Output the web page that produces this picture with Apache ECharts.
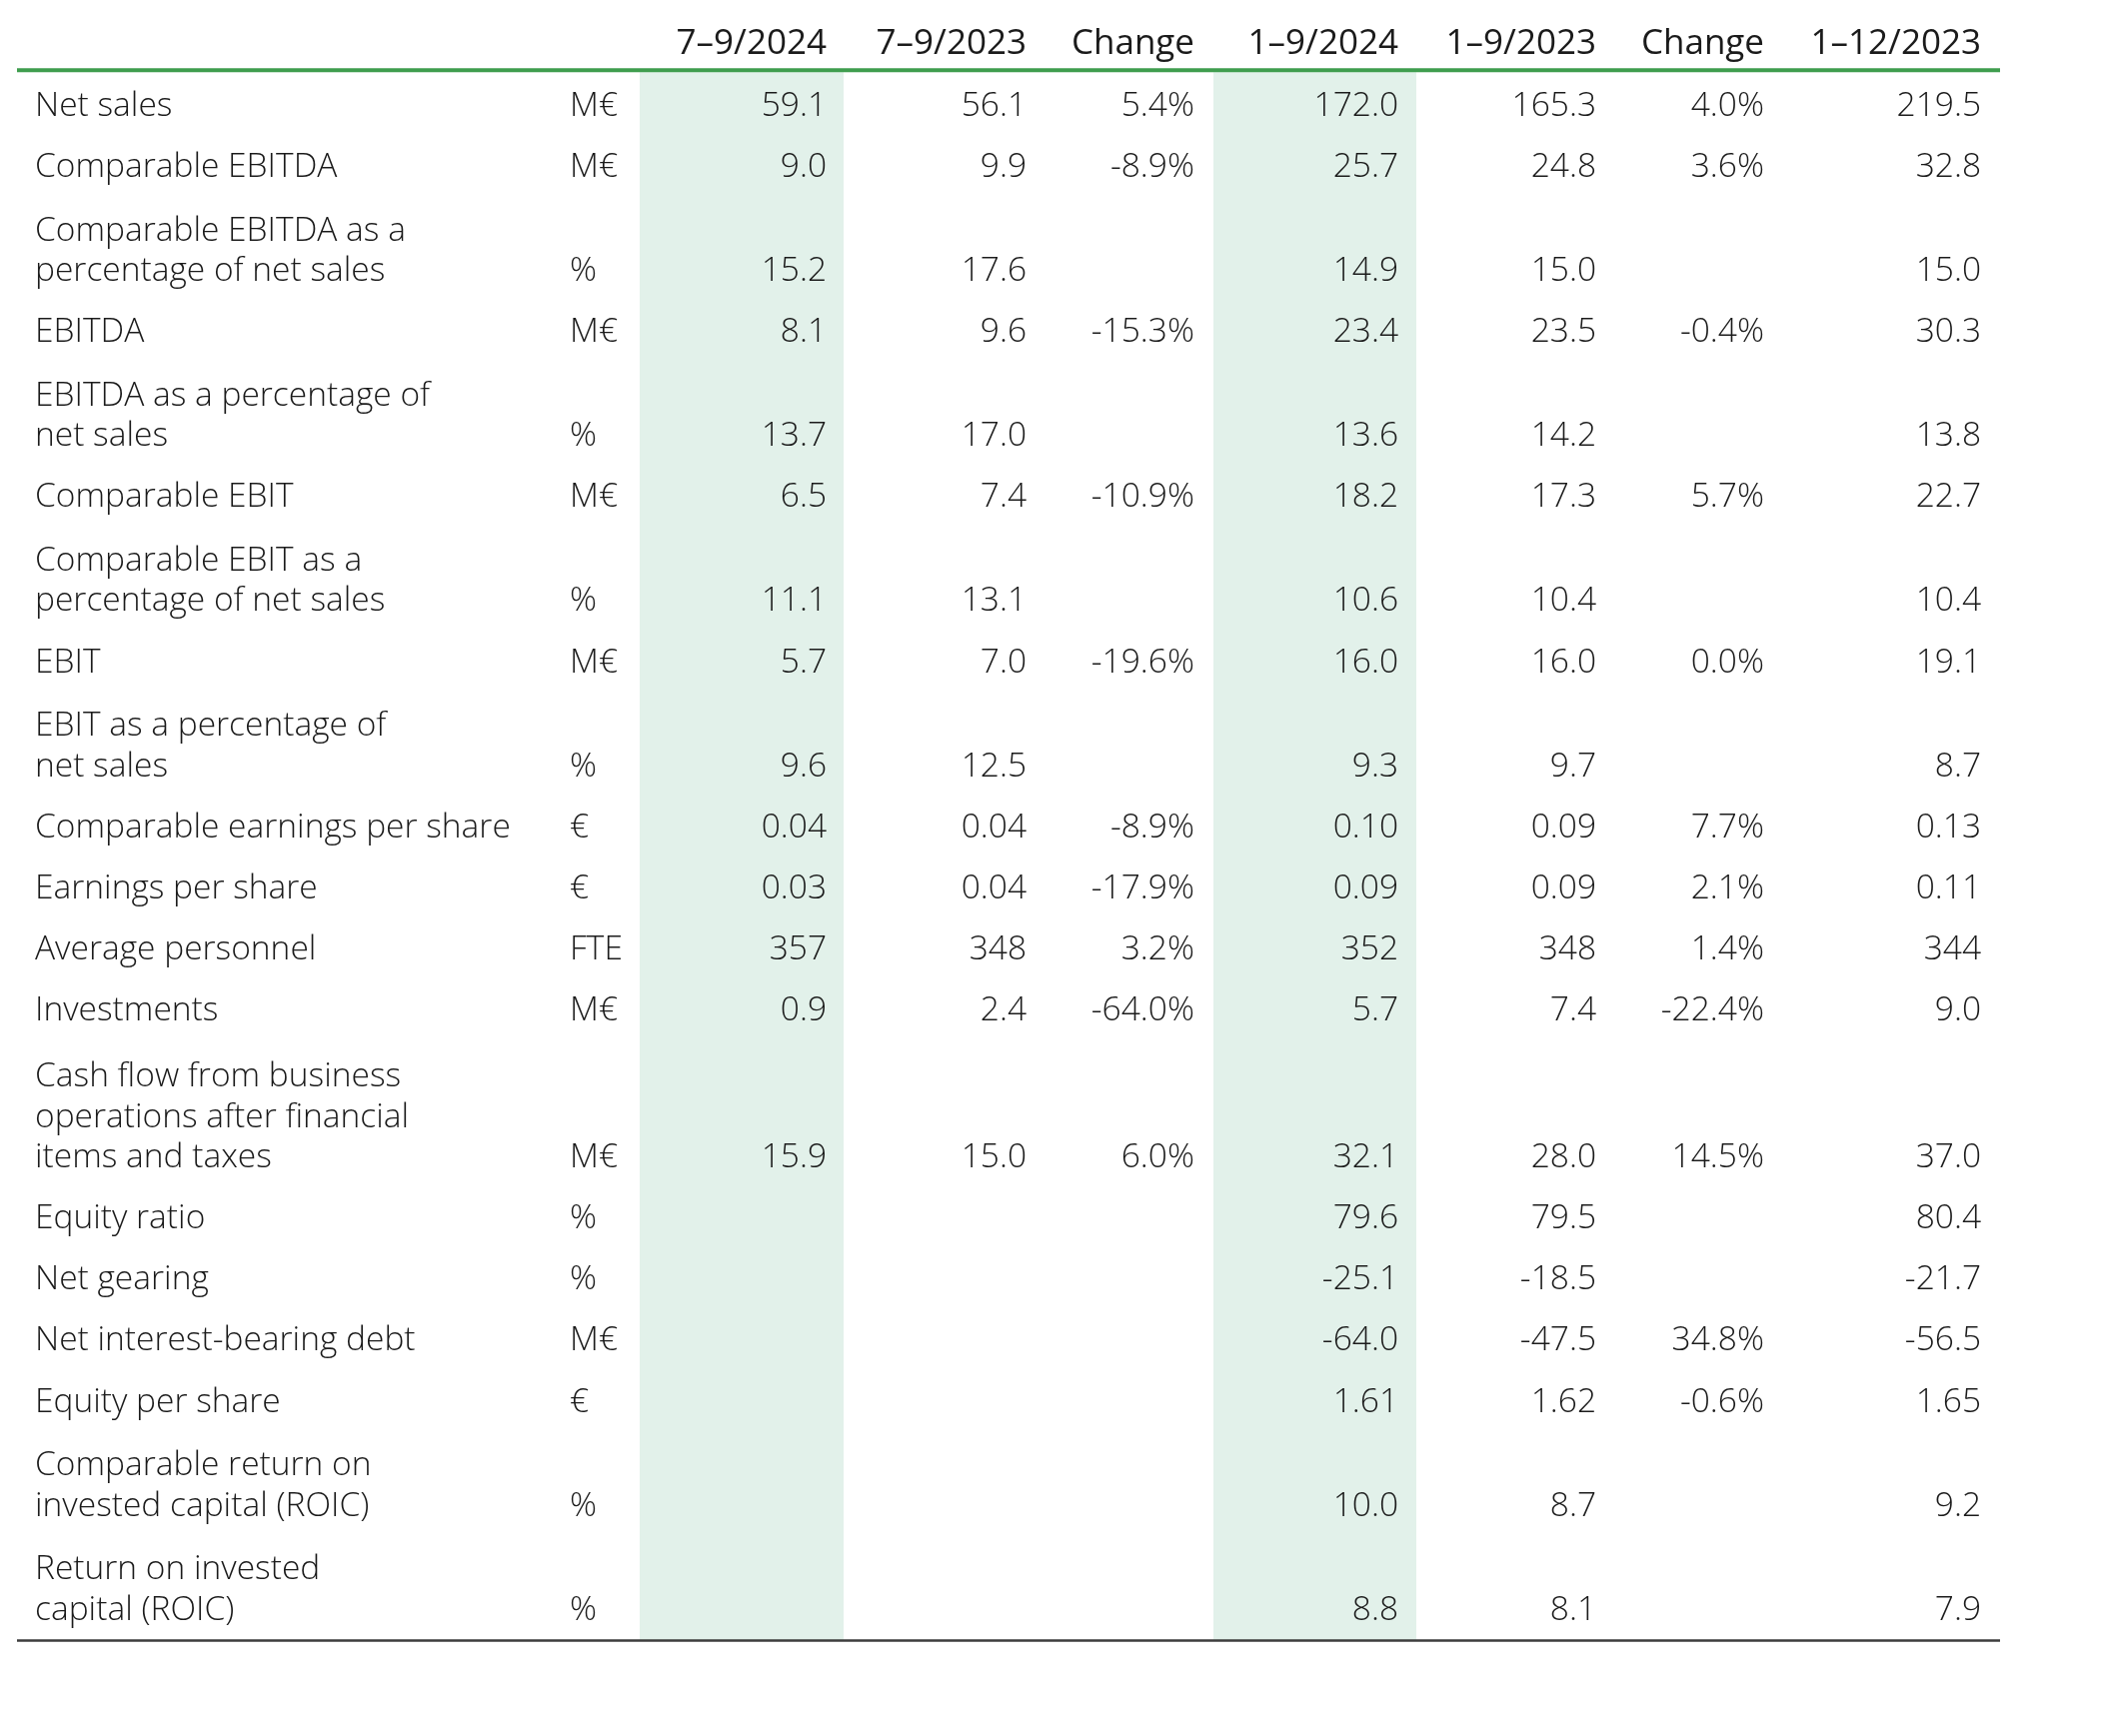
<!DOCTYPE html>
<html><head><meta charset="utf-8">
<script src="https://cdn.jsdelivr.net/npm/echarts@6/dist/echarts.min.js"></script>
<style>html,body{margin:0;padding:0;background:#fff}#c{width:2107px;height:1737px}</style>
</head><body><div id="c"></div>
<script>
// ---------- data ----------
const headers = ["7–9/2024", "7–9/2023", "Change", "1–9/2024", "1–9/2023", "Change", "1–12/2023"];
const labels = [
  "Net sales", "Comparable EBITDA", "Comparable EBITDA as a\npercentage of net sales", "EBITDA",
  "EBITDA as a percentage of\nnet sales", "Comparable EBIT", "Comparable EBIT as a\npercentage of net sales", "EBIT",
  "EBIT as a percentage of\nnet sales", "Comparable earnings per share", "Earnings per share", "Average personnel",
  "Investments", "Cash flow from business\noperations after financial\nitems and taxes", "Equity ratio", "Net gearing",
  "Net interest-bearing debt", "Equity per share", "Comparable return on\ninvested capital (ROIC)", "Return on invested\ncapital (ROIC)"
];
const units = ["M€","M€","%","M€","%","M€","%","M€","%","€","€","FTE","M€","M€","%","%","M€","€","%","%"];
const decimals = [1,1,1,1,1,1,1,1,1,2,2,0,1,1,1,1,1,2,1,1];
const q3_2024 = [59.1, 9.0, 15.2, 8.1, 13.7, 6.5, 11.1, 5.7, 9.6, 0.04, 0.03, 357, 0.9, 15.9, null, null, null, null, null, null];
const q3_2023 = [56.1, 9.9, 17.6, 9.6, 17.0, 7.4, 13.1, 7.0, 12.5, 0.04, 0.04, 348, 2.4, 15.0, null, null, null, null, null, null];
const q3_change = [5.4, -8.9, null, -15.3, null, -10.9, null, -19.6, null, -8.9, -17.9, 3.2, -64.0, 6.0, null, null, null, null, null, null];
const ytd_2024 = [172.0, 25.7, 14.9, 23.4, 13.6, 18.2, 10.6, 16.0, 9.3, 0.10, 0.09, 352, 5.7, 32.1, 79.6, -25.1, -64.0, 1.61, 10.0, 8.8];
const ytd_2023 = [165.3, 24.8, 15.0, 23.5, 14.2, 17.3, 10.4, 16.0, 9.7, 0.09, 0.09, 348, 7.4, 28.0, 79.5, -18.5, -47.5, 1.62, 8.7, 8.1];
const ytd_change = [4.0, 3.6, null, -0.4, null, 5.7, null, 0.0, null, 7.7, 2.1, 1.4, -22.4, 14.5, null, null, 34.8, -0.6, null, null];
const fy_2023 = [219.5, 32.8, 15.0, 30.3, 13.8, 22.7, 10.4, 19.1, 8.7, 0.13, 0.11, 344, 9.0, 37.0, 80.4, -21.7, -56.5, 1.65, 9.2, 7.9];
const shadedColumns = [0, 3];

// ---------- layout ----------
const W = 2107, H = 1737;
const labelX = 35, unitX = 570;
const colRight = [827, 1027, 1195, 1399, 1597, 1765, 1982];
const colBand = [[640, 844], [1214, 1417]];
const tableLeft = 17, tableRight = 2001;
const headerY = 44, ruleTopY = 70.3, firstRowY = 106.3, rowStep = 61.1, lineAdvance = 43, lineHeight = 40.5, ruleBottomY = 1641.5;
const FONT = '"Open Sans", sans-serif';
const SIZE = 33.5, HEAD_SIZE = 35;
const TEXT = '#1b1b1b';

const columns = [q3_2024, q3_2023, q3_change, ytd_2024, ytd_2023, ytd_change, fy_2023];
const isChange = [false, false, true, false, false, true, false];

// row y (last-line centre) computed from line counts
const rowLines = labels.map(l => l.split('\n').length);
const rowLastY = [];
let y = firstRowY;
rowLines.forEach((n, i) => {
  if (i > 0) y += rowStep;
  y += (n - 1) * lineAdvance;
  rowLastY.push(y);
});

function fmt(v, d, pct) {
  if (v === null || v === undefined) return '';
  return pct ? v.toFixed(1) + '%' : v.toFixed(d);
}

// text cells: [x, y, text, align, size, weight]
const cells = [];
headers.forEach((h, c) => cells.push([colRight[c], headerY, h, 'right', HEAD_SIZE, 500]));
labels.forEach((l, r) => {
  const n = rowLines[r];
  cells.push([labelX, rowLastY[r] - (n - 1) * lineHeight / 2, l, 'left', SIZE, 300]);
  cells.push([unitX, rowLastY[r], units[r], 'left', SIZE, 300]);
  columns.forEach((col, c) => {
    const t = fmt(col[r], decimals[r], isChange[c]);
    if (t) cells.push([colRight[c], rowLastY[r], t, 'right', SIZE, 300]);
  });
});

const bands = shadedColumns.map((c, i) => [colBand[i][0], colBand[i][1], ruleTopY + 2, ruleBottomY]);
const rules = [
  [tableLeft, tableRight, ruleTopY, 4, '#3f9d4e'],
  [tableLeft, tableRight, ruleBottomY, 2.7, '#3d3d3d']
];

const chart = echarts.init(document.getElementById('c'), null, { renderer: 'canvas' });
chart.setOption({
  animation: false,
  backgroundColor: '#ffffff',
  grid: { left: 0, right: 0, top: 0, bottom: 0 },
  xAxis: { type: 'value', min: 0, max: W, show: false },
  yAxis: { type: 'value', min: 0, max: H, inverse: true, show: false },
  series: [
    {
      type: 'custom', z: 1, data: bands,
      renderItem(params, api) {
        const p0 = api.coord([api.value(0), api.value(2)]);
        const p1 = api.coord([api.value(1), api.value(3)]);
        return { type: 'rect', shape: { x: p0[0], y: p0[1], width: p1[0] - p0[0], height: p1[1] - p0[1] }, style: { fill: '#e2f1ea' } };
      }
    },
    {
      type: 'custom', z: 2, data: rules,
      renderItem(params, api) {
        const r = rules[params.dataIndex];
        const p0 = api.coord([r[0], r[2]]);
        const p1 = api.coord([r[1], r[2]]);
        return { type: 'rect', shape: { x: p0[0], y: p0[1] - r[3] / 2, width: p1[0] - p0[0], height: r[3] }, style: { fill: r[4] } };
      }
    },
    {
      type: 'custom', z: 3, data: cells.map((c, i) => [c[0], c[1], i]),
      renderItem(params, api) {
        const c = cells[params.dataIndex];
        const p = api.coord([c[0], c[1]]);
        return {
          type: 'text',
          x: p[0], y: p[1],
          style: {
            text: c[2], align: c[3], verticalAlign: 'middle',
            fontFamily: FONT, fontSize: c[4], fontWeight: c[5], lineHeight: lineHeight,
            fill: TEXT
          }
        };
      }
    }
  ]
});
</script></body></html>
